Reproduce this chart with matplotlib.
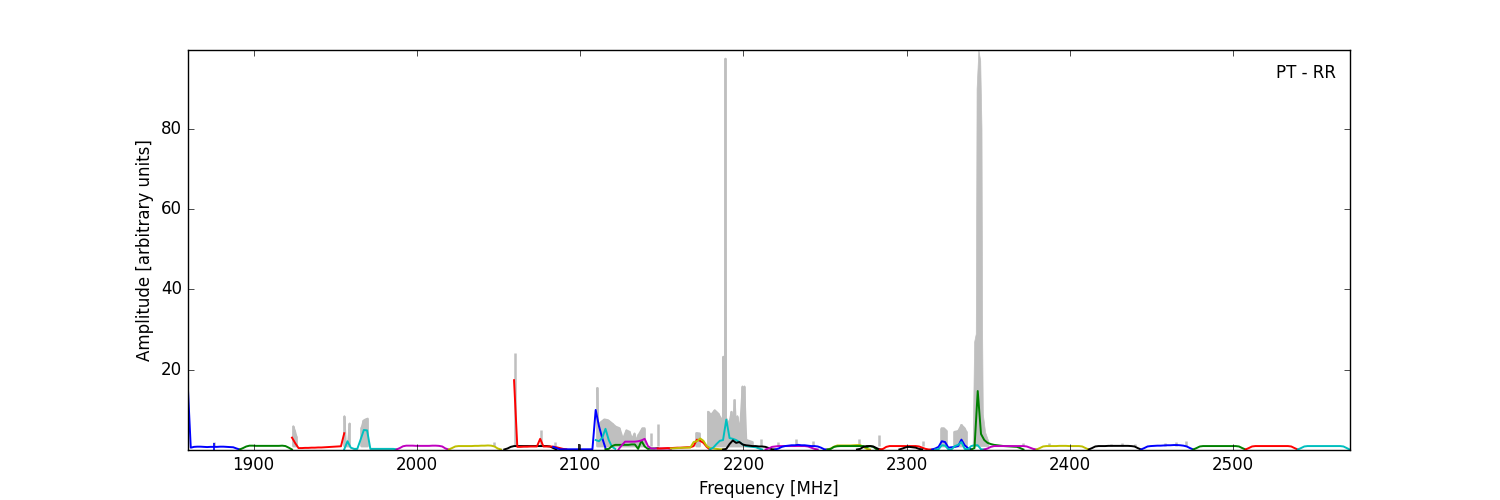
import matplotlib
matplotlib.use('Agg')
import matplotlib.pyplot as plt
import numpy as np

plt.style.use('classic')

# channel spacing inside each sub-band [MHz]
step = 2.0

# sub-band start frequencies [MHz], colours and channel amplitudes
band_start = [1859.5, 1891.5, 1923.5, 1955.5, 1987.5, 2019.5, 2053.5, 2059.5,
              2083.5, 2109.5, 2115.5, 2123.5, 2147.5, 2155.5, 2179.5, 2187.5,
              2213.5, 2219.5, 2251.5, 2251.5, 2269.5, 2283.5, 2295.5, 2315.5,
              2317.5, 2339.5, 2347.5, 2379.5, 2411.5, 2443.5, 2475.5, 2507.5,
              2539.5]
band_color = ['b', 'g', 'r', 'c', 'm', 'y', 'k', 'r',
              'b', 'c', 'g', 'm', 'r', 'y', 'c', 'k',
              'm', 'b', 'y', 'g', 'k', 'r', 'k', 'b',
              'c', 'g', 'm', 'y', 'k', 'b', 'g', 'r',
              'c']
band_amp = [
    [17.5, 0.6, 0.8, 0.85, 0.85, 0.8, 0.75, 0.8, 0.8, 0.8, 0.85, 0.85, 0.8, 0.75, 0.7, 0.4, 0.15],
    [0.15, 0.5, 0.9, 1.1, 1.1, 1.05, 1.05, 1.05, 1.05, 1.05, 1.05, 1.05, 1.05, 1.1, 1.0, 0.6, 0.15],
    [3.1, 1.7, 0.5, 0.5, 0.55, 0.55, 0.6, 0.6, 0.65, 0.65, 0.7, 0.75, 0.8, 0.85, 0.9, 0.95, 4.2],
    [0.2, 2.2, 0.6, 0.3, 0.3, 2.6, 5.0, 4.9, 0.3, 0.3, 0.3, 0.3, 0.3, 0.3, 0.3, 0.3, 0.2],
    [0.15, 0.5, 0.95, 1.1, 1.1, 1.1, 1.05, 1.05, 1.05, 1.05, 1.05, 1.1, 1.1, 1.05, 0.9, 0.4, 0.15],
    [0.15, 0.5, 0.9, 1.0, 1.0, 1.0, 1.0, 1.0, 1.05, 1.05, 1.1, 1.1, 1.15, 1.1, 0.9, 0.4, 0.15],
    [0.15, 0.4, 0.8, 1.0, 1.0, 1.0, 1.0, 1.0, 1.0, 1.0, 1.0, 1.0, 1.0, 1.0, 0.9, 0.5, 0.15],
    [17.4, 0.8, 0.8, 0.85, 0.85, 0.9, 0.9, 0.9, 2.8, 0.9, 0.9, 0.9, 0.85, 0.7, 0.5, 0.3, 0.2],
    [0.8, 0.5, 0.2, 0.2, 0.2, 0.2, 0.2, 0.2, 0.2, 0.2, 0.2, 0.2, 0.2, 10.0, 6.0, 3.0, 0.5],
    [2.5, 2.2, 3.0, 5.3, 2.5, 0.8, 0.3],
    [0.2, 0.3, 1.0, 1.3, 1.3, 1.3, 1.3, 1.3, 1.4, 1.4, 0.3, 2.3, 0.9, 0.3, 0.4, 0.4, 0.5],
    [0.2, 1.2, 2.1, 2.1, 2.1, 2.1, 2.2, 2.4, 2.8, 1.0, 0.4, 0.4, 0.4, 0.4, 0.4, 0.4, 0.3],
    [0.4, 0.4, 0.45, 0.5, 0.5, 0.55, 0.6, 0.6, 0.65, 0.7, 0.7, 1.0, 2.6, 2.3, 1.8, 0.8, 0.15],
    [0.4, 0.45, 0.5, 0.55, 0.6, 0.6, 0.65, 2.0, 2.2, 2.9, 2.3, 1.0, 0.5, 0.4, 0.3, 0.2, 0.15],
    [0.2, 0.6, 1.5, 2.3, 2.5, 7.6, 3.0, 2.8, 2.5, 2.0, 1.4, 1.0, 0.9, 0.8, 0.7, 0.4, 0.15],
    [0.15, 0.3, 1.5, 2.4, 1.8, 2.0, 1.4, 1.2, 1.1, 1.0, 1.0, 0.9, 0.9, 0.8, 0.5, 0.2, 0.15],
    [0.15, 0.4, 0.8, 0.9, 1.0, 1.0, 1.0, 1.0, 1.0, 1.0, 1.0, 1.0, 1.0, 0.9, 0.6, 0.3, 0.15],
    [0.15, 0.4, 0.8, 1.0, 1.1, 1.2, 1.2, 1.3, 1.2, 1.2, 1.1, 1.0, 1.0, 0.9, 0.6, 0.2, 0.15],
    [0.15, 0.4, 0.85, 1.15, 1.15, 1.15, 1.15, 1.15, 1.2, 1.25, 1.25, 0.8, 0.3, 0.15],
    [0.15, 0.3, 0.8, 0.95, 1.0, 1.0, 1.0, 1.0, 1.0, 1.0, 1.0, 1.0, 0.7, 1.0, 0.8, 0.2, 0.15],
    [0.15, 0.3, 0.8, 1.0, 1.0, 0.9, 0.5, 0.15],
    [0.15, 0.3, 0.8, 1.0, 1.0, 1.0, 1.0, 1.0, 1.0, 1.0, 1.0, 1.0, 0.9, 0.6, 0.3, 0.15, 0.15],
    [0.15, 0.4, 0.7, 0.8, 0.7, 0.6, 0.3, 0.15],
    [0.15, 0.4, 0.8, 2.2, 2.0, 0.6, 0.7, 0.8, 1.0, 2.6, 1.2, 0.5, 0.2],
    [0.15, 0.2, 1.2, 1.1, 0.2, 0.2, 1.0, 1.3, 2.0, 0.3, 0.2, 1.0, 1.2, 1.2, 0.2, 0.15],
    [0.15, 0.5, 14.7, 4.0, 2.5, 1.8, 1.5, 1.3, 1.2, 1.1, 1.0, 0.95, 0.9, 0.85, 0.8, 0.5, 0.15],
    [0.15, 0.4, 0.8, 1.0, 1.0, 1.0, 1.0, 1.0, 1.0, 1.0, 1.0, 1.0, 1.0, 0.9, 0.6, 0.3, 0.15],
    [0.15, 0.5, 0.9, 1.0, 1.0, 1.0, 1.0, 1.05, 1.05, 1.05, 1.0, 1.0, 1.0, 1.0, 0.9, 0.5, 0.15],
    [0.15, 0.5, 0.9, 1.0, 1.0, 1.0, 1.05, 1.05, 1.05, 1.05, 1.05, 1.05, 1.05, 1.0, 0.9, 0.5, 0.15],
    [0.15, 0.5, 0.9, 1.0, 1.05, 1.1, 1.1, 1.15, 1.2, 1.2, 1.25, 1.25, 1.2, 1.1, 0.9, 0.5, 0.15],
    [0.15, 0.5, 0.9, 1.0, 1.0, 1.0, 1.0, 1.0, 1.0, 1.0, 1.0, 1.0, 1.0, 1.0, 0.9, 0.5, 0.15],
    [0.15, 0.5, 0.9, 1.0, 1.0, 1.0, 1.0, 1.0, 1.0, 1.0, 1.0, 1.0, 1.0, 1.0, 0.9, 0.5, 0.15],
    [0.15, 0.5, 0.9, 1.0, 1.0, 1.0, 1.0, 1.0, 1.0, 1.0, 1.0, 1.0, 1.0, 1.0, 0.9, 0.5, 0.1],
]

# narrow single-channel features in the coloured spectra
tick_freq = [1876.0, 2099.3]
tick_amp = [1.8, 1.5]
tick_color = ['b', 'k']

# high resolution spectrum (grey): RFI spikes and the dips between them
gray_freq = [1876.0, 1924.0, 1925.0, 1926.0, 1955.3, 1956.3, 1957.5, 1958.5, 1965.8, 1967.0,
             1968.3, 1969.6, 2047.4, 2060.2, 2076.0, 2084.5, 2110.2, 2110.8, 2112.0, 2114.5,
             2116.8, 2119.3, 2121.5, 2123.9, 2125.9, 2128.0, 2130.0, 2131.5, 2133.0, 2134.3,
             2135.5, 2137.8, 2139.2, 2143.3, 2147.8, 2171.0, 2173.0, 2178.0, 2180.0, 2182.1,
             2184.2, 2186.2, 2187.0, 2187.4, 2187.8, 2188.3, 2188.7, 2189.1, 2190.0, 2191.3,
             2192.4, 2193.4, 2194.4, 2195.2, 2196.0, 2197.5, 2199.1, 2199.7, 2200.3, 2201.5,
             2205.0, 2210.7, 2221.0, 2232.0, 2242.4, 2271.0, 2282.8, 2309.7, 2321.0, 2322.5,
             2324.0, 2329.0, 2331.2, 2333.2, 2335.2, 2336.3, 2371.0, 2387.0, 2425.0, 2432.0,
             2440.0, 2458.0, 2465.0, 2471.0]
gray_top = [2.0, 6.1, 5.0, 3.5, 8.6, 1.5, 2.0, 6.8, 5.8, 7.5,
            7.8, 8.0, 2.0, 24.2, 5.1, 2.0, 15.6, 5.0, 7.0, 7.8,
            7.6, 6.8, 6.0, 5.6, 3.0, 5.1, 4.7, 3.0, 4.3, 2.5,
            4.0, 5.6, 5.6, 4.3, 6.4, 4.4, 4.3, 9.7, 9.0, 10.1,
            9.3, 7.9, 7.0, 23.4, 8.0, 9.0, 97.6, 8.0, 6.0, 7.6,
            9.7, 6.5, 12.6, 6.0, 8.6, 5.0, 16.0, 11.0, 16.0, 2.7,
            2.2, 2.7, 2.0, 2.7, 2.2, 2.8, 3.7, 2.2, 5.6, 5.6,
            5.0, 4.7, 4.9, 6.4, 5.6, 4.7, 1.8, 1.8, 1.6, 1.7,
            1.6, 1.8, 1.9, 2.2]

# broad line near 2344 MHz in the grey spectrum
peak_freq = [2340.4, 2341.3, 2342.3, 2342.8, 2343.9, 2345.0, 2345.8, 2346.2, 2346.6, 2348.0, 2350.0]
peak_amp = [1.5, 27.0, 29.0, 90.0, 99.6, 97.0, 80.0, 28.0, 9.0, 4.5, 2.2]

fig = plt.figure(figsize=(15, 5), dpi=100)
ax = fig.add_subplot(111)

# grey spectrum underneath: neighbouring channels are drawn as one jagged patch
gf = np.array(gray_freq)
gt = np.array(gray_top)
groups = np.split(np.arange(len(gf)), np.where(np.diff(gf) > 3.5)[0] + 1)
for g in groups:
    if len(g) > 1:
        ax.fill_between(gf[g], 1.0, gt[g], color='0.75', lw=1.2, edgecolor='0.75', zorder=1)
    ax.vlines(gf[g], 1.0, gt[g], color='0.75', lw=1.8, zorder=1)
ax.fill_between(peak_freq, 1.0, peak_amp, color='0.75', lw=0.5, edgecolor='0.75', zorder=1)

# coloured sub-bands on top
for f0, col, amp in zip(band_start, band_color, band_amp):
    freq = f0 + step * np.arange(len(amp))
    ax.plot(freq, amp, color=col, lw=1.4, zorder=2)

ax.vlines(tick_freq, 0.02, tick_amp, colors=tick_color, lw=1.2, zorder=2)

ax.text(0.988, 0.965, 'PT - RR', transform=ax.transAxes, ha='right', va='top', fontsize=12)
ax.set_xlim(1859.5, 2571.5)
ax.set_ylim(0.02, 99.6)
ax.set_xlabel('Frequency [MHz]')
ax.set_ylabel('Amplitude [arbitrary units]')

plt.savefig('out.png', dpi=100)
